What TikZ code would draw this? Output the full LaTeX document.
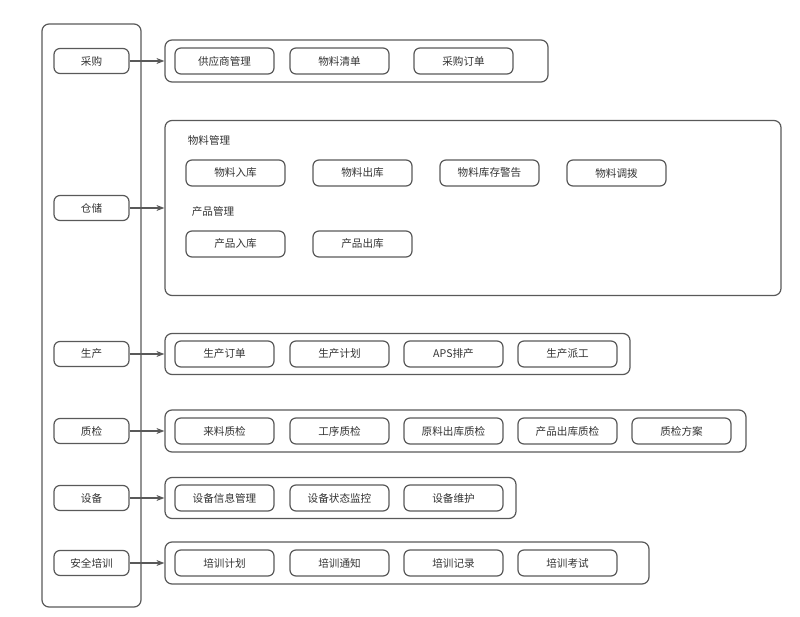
\documentclass[tikz,border=0pt]{standalone}
\usepackage{fontspec}
\newfontfamily\cjk{Noto Sans CJK SC}
\usetikzlibrary{positioning, arrows.meta}
\definecolor{linegray}{HTML}{595959}
\definecolor{textgray}{HTML}{333333}

\begin{document}
\begin{tikzpicture}[x=1pt, y=-1pt,
	every node/.style={font=\cjk\fontsize{10.6}{12}\selectfont, text=textgray},
	mod/.style={draw=linegray, line width=1.2pt, rounded corners=6pt, minimum width=75pt, minimum height=25pt, inner sep=0pt},
	sub/.style={draw=linegray, line width=1.2pt, rounded corners=6pt, minimum width=99pt, minimum height=26pt, inner sep=0pt},
	grp/.style={draw=linegray, line width=1.2pt, rounded corners=7pt, inner sep=0pt},
	link/.style={draw=linegray, line width=1.2pt, -{Stealth[length=8pt, width=6pt]}}]
	\useasboundingbox (0,0) rectangle (800,617);
	
	% Left column
	\node[grp, minimum width=99pt, minimum height=583pt] (side) at (91.5,315.5) {};
	\node[mod] (caigou) at (91.5,61) {采购};
	\node[mod] (cangchu) at (91.5,208) {仓储};
	\node[mod] (shengchan) at (91.5,354) {生产};
	\node[mod] (zhijian) at (91.5,431) {质检};
	\node[mod] (shebei) at (91.5,498) {设备};
	\node[mod] (peixun) at (91.5,563) {安全培训};
	
	% Groups
	\node[grp, minimum width=383pt, minimum height=42pt] (gcaigou) at (356.5,61) {};
	\node[grp, minimum width=616pt, minimum height=175pt] (gcangchu) at (473,208) {};
	\node[grp, minimum width=465pt, minimum height=41pt] (gshengchan) at (397.5,354) {};
	\node[grp, minimum width=581pt, minimum height=42pt] (gzhijian) at (455.5,431) {};
	\node[grp, minimum width=351pt, minimum height=41pt] (gshebei) at (340.5,498) {};
	\node[grp, minimum width=484pt, minimum height=42pt] (gpeixun) at (407,563) {};
	
	% Purchasing
	\node[sub] (gys) at (224.5,61) {供应商管理};
	\node[sub] (wlqd) at (339.5,61) {物料清单};
	\node[sub] (cgdd) at (463.5,61) {采购订单};
	
	% Warehouse
	\node (wlgl) at (209,140) {物料管理};
	\node[sub] (wlrk) at (235.5,173) {物料入库};
	\node[sub] (wlck) at (362.5,173) {物料出库};
	\node[sub] (wlkc) at (489.5,173) {物料库存警告};
	\node[sub] (wldb) at (616.5,173) {物料调拨};
	\node (cpgl) at (213,211) {产品管理};
	\node[sub] (cprk) at (235.5,244) {产品入库};
	\node[sub] (cpck) at (362.5,244) {产品出库};
	
	% Production
	\node[sub] (scdd) at (224.5,354) {生产订单};
	\node[sub] (scjh) at (339.5,354) {生产计划};
	\node[sub] (aps) at (453.5,354) {APS排产};
	\node[sub] (scpg) at (567.5,354) {生产派工};
	
	% Quality
	\node[sub] (llzj) at (224.5,431) {来料质检};
	\node[sub] (gxzj) at (339.5,431) {工序质检};
	\node[sub] (ylzj) at (453.5,431) {原料出库质检};
	\node[sub] (cpzj) at (567.5,431) {产品出库质检};
	\node[sub] (zjfa) at (681.5,431) {质检方案};
	
	% Equipment
	\node[sub] (sbxx) at (224.5,498) {设备信息管理};
	\node[sub] (sbzt) at (339.5,498) {设备状态监控};
	\node[sub] (sbwh) at (453.5,498) {设备维护};
	
	% Training
	\node[sub] (pxjh) at (224.5,563) {培训计划};
	\node[sub] (pxtz) at (339.5,563) {培训通知};
	\node[sub] (pxjl) at (453.5,563) {培训记录};
	\node[sub] (pxks) at (567.5,563) {培训考试};
	
	% Links
	\draw[link] (caigou) -- (gcaigou);
	\draw[link] (cangchu) -- (gcangchu);
	\draw[link] (shengchan) -- (gshengchan);
	\draw[link] (zhijian) -- (gzhijian);
	\draw[link] (shebei) -- (gshebei);
	\draw[link] (peixun) -- (gpeixun);
\end{tikzpicture}
\end{document}
